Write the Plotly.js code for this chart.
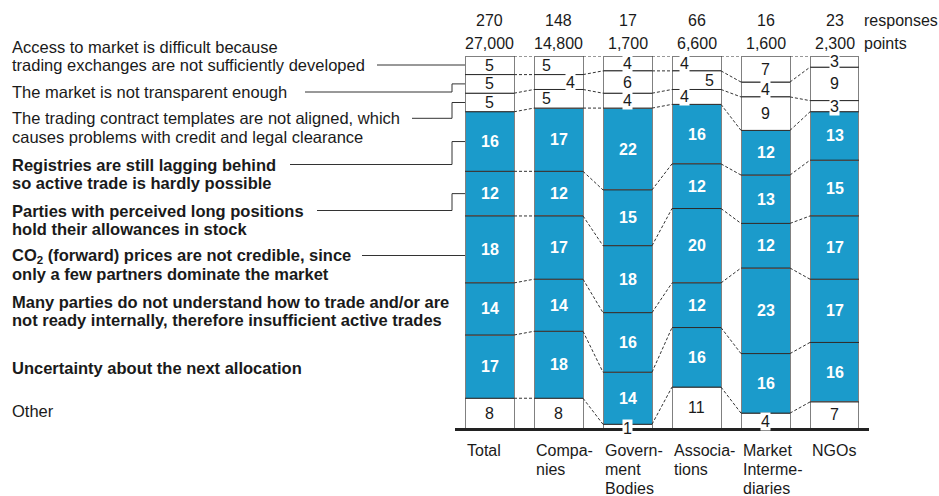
<!DOCTYPE html>
<html>
<head>
<meta charset="utf-8">
<script src="https://cdn.plot.ly/plotly-3.0.1.min.js"></script>
<style>html,body{margin:0;padding:0;background:#fff;}#chart{width:939px;height:496px;}</style>
</head>
<body>
<div id="chart"></div>
<script>
// ---------------- DATA ----------------
const categories = ["Total", "Companies", "Government Bodies", "Associations", "Market Intermediaries", "NGOs"];
const categoryLabels = ["Total", "Compa-|nies", "Govern-|ment|Bodies", "Associa-|tions", "Market|Interme-|diaries", "NGOs"];
const responses = [270, 148, 17, 66, 16, 23];
const points = [27000, 14800, 1700, 6600, 1600, 2300];

// series, bottom to top (percent of points)
const other          = [8, 8, 1, 11, 4, 7];
const uncertainty    = [17, 18, 14, 16, 16, 16];
const manyParties    = [14, 14, 16, 12, 23, 17];
const co2Prices      = [18, 17, 18, 20, 12, 17];
const longPositions  = [12, 12, 15, 12, 13, 15];
const registries     = [16, 17, 22, 16, 12, 13];
const templates      = [5, 5, 4, 4, 9, 3];
const notTransparent = [5, 4, 6, 5, 4, 9];
const accessMarket   = [5, 5, 4, 4, 7, 3];

const seriesNames = [
  "Other",
  "Uncertainty about the next allocation",
  "Many parties do not understand how to trade and/or are|not ready internally, therefore insufficient active trades",
  "CO<sub>2</sub> (forward) prices are not credible, since|only a few partners dominate the market",
  "Parties with perceived long positions|hold their allowances in stock",
  "Registries are still lagging behind|so active trade is hardly possible",
  "The trading contract templates are not aligned, which|causes problems with credit and legal clearance",
  "The market is not transparent enough",
  "Access to market is difficult because|trading exchanges are not sufficiently developed"
];
const seriesValues = [other, uncertainty, manyParties, co2Prices, longPositions, registries, templates, notTransparent, accessMarket];

// ---------------- STYLE ----------------
const W = 939, H = 496;
const M = {l: 455, r: 70, t: 56, b: 68};
const plotW = W - M.l - M.r, plotH = H - M.t - M.b;
const xRange = [-0.5, categories.length - 0.5];
const yRange = [0, 100];
const barW = 0.71;
const BLUE = "#1B9BCB";
const TXT = "#1a1a1a";
const FONT = "Liberation Sans, Arial, sans-serif";
const LEFT_SIZE = 16.5;
const highlighted = [false, true, true, true, true, true, false, false, false];
const labelFirstLineY = [411, 368, 301.5, 255.5, 210.5, 164.5, 118.3, 92, 46.7]; // px
const lineGap = 18.3;
const leaderStartX = {8: 377, 7: 305, 6: 412, 5: 290, 4: 317, 3: 362}; // px
const leaderLine = {8: 1, 7: 0, 6: 0, 5: 0, 4: 0, 3: 0};
const straightLeader = {8: true, 3: true};
const jogX = 452;
const labelOffsets = { // [categoryIndex][seriesIndex] -> {xs, ys}
  1: {6: {xs: -12}, 7: {xs: 12}, 8: {xs: -12}},
  3: {6: {xs: -12}, 7: {xs: 13}, 8: {xs: -12}},
  2: {0: {ys: -2}},
  4: {0: {ys: -1}}
};

const pxToPaperX = px => (px - M.l) / plotW;
const pxToPaperY = py => (M.t + plotH - py) / plotH;
const xToPaper = x => (x - xRange[0]) / (xRange[1] - xRange[0]);
const yToPaper = y => (y - yRange[0]) / (yRange[1] - yRange[0]);

// ---------------- TRACES ----------------
const traces = seriesValues.map((vals, s) => ({
  type: "bar",
  x: categories,
  y: vals,
  name: seriesNames[s].replace(/\|/g, " "),
  marker: {color: highlighted[s] ? BLUE : "#ffffff", line: {color: "#808080", width: 1}},
  width: barW,
  hoverinfo: "x+y+name",
  showlegend: false
}));

// cumulative levels
const cum = categories.map((_, i) => {
  const arr = [0];
  seriesValues.forEach(v => arr.push(arr[arr.length - 1] + v[i]));
  return arr;
});

const shapes = [];
const annotations = [];
const nS = seriesValues.length;

// in-bar boundaries and connectors
categories.forEach((_, i) => {
  for (let k = 1; k < nS; k++) {
    shapes.push({type: "line", xref: "x", yref: "y", x0: i - barW / 2, x1: i + barW / 2,
      y0: cum[i][k], y1: cum[i][k], line: {color: "#2a2a2a", width: 1}});
  }
  if (i < categories.length - 1) {
    for (let k = 1; k <= nS; k++) {
      shapes.push({type: "line", xref: "x", yref: "y", x0: i + barW / 2, x1: i + 1 - barW / 2,
        y0: cum[i][k], y1: cum[i + 1][k], line: {color: "#333", width: 1, dash: "3px,2px"}});
    }
  }
});

// segment value labels
categories.forEach((_, i) => {
  seriesValues.forEach((vals, s) => {
    const v = vals[i];
    const off = (labelOffsets[i] && labelOffsets[i][s]) || {};
    const small = !highlighted[s] && v <= 4;
    annotations.push({
      xref: "x", yref: "y", x: i, y: cum[i][s] + v / 2,
      text: String(v), showarrow: false,
      xshift: off.xs || 0, yshift: off.ys || 0,
      font: {family: FONT, size: 16, color: highlighted[s] ? "#ffffff" : TXT, weight: highlighted[s] ? "bold" : "normal"},
      bgcolor: small ? "#ffffff" : "rgba(0,0,0,0)",
      borderpad: 0
    });
  });
});

// left series labels + leader lines (paper refs so they are not clipped)
seriesNames.forEach((name, s) => {
  const lines = name.split("|");
  lines.forEach((ln, j) => {
    annotations.push({
      xref: "paper", yref: "paper", x: pxToPaperX(10), y: pxToPaperY(labelFirstLineY[s] + j * lineGap),
      xanchor: "left", yanchor: "middle", showarrow: false, align: "left",
      text: highlighted[s] ? "<b>" + ln + "</b>" : ln,
      font: {family: FONT, size: LEFT_SIZE, color: TXT}
    });
  });
  if (leaderStartX[s] !== undefined) {
    const ly = pxToPaperY(labelFirstLineY[s] + leaderLine[s] * lineGap);
    const target = yToPaper(cum[0][s] + seriesValues[s][0] / 2);
    const barEdge = xToPaper(0 - barW / 2);
    const lc = {color: "#333", width: 1};
    const x0 = pxToPaperX(leaderStartX[s]), xj = pxToPaperX(jogX);
    if (straightLeader[s]) {
      shapes.push({type: "line", xref: "paper", yref: "paper", x0: x0, x1: barEdge, y0: ly, y1: ly, line: lc});
    } else {
      shapes.push({type: "line", xref: "paper", yref: "paper", x0: x0, x1: xj, y0: ly, y1: ly, line: lc});
      shapes.push({type: "line", xref: "paper", yref: "paper", x0: xj, x1: xj, y0: ly, y1: target, line: lc});
      shapes.push({type: "line", xref: "paper", yref: "paper", x0: xj, x1: barEdge, y0: target, y1: target, line: lc});
    }
  }
});

// top numbers and category labels
const fmt = n => n.toLocaleString("en-US");
categories.forEach((_, i) => {
  annotations.push({xref: "x", yref: "paper", x: i, y: pxToPaperY(20), yanchor: "middle", showarrow: false,
    text: String(responses[i]), font: {family: FONT, size: 16, color: TXT}});
  annotations.push({xref: "x", yref: "paper", x: i, y: pxToPaperY(43), yanchor: "middle", showarrow: false,
    text: fmt(points[i]), font: {family: FONT, size: 16, color: TXT}});
  categoryLabels[i].split("|").forEach((ln, j) => {
    annotations.push({xref: "x", yref: "paper", x: i - barW / 2, y: pxToPaperY(450 + j * 19.3),
      xanchor: "left", yanchor: "middle", showarrow: false, text: ln,
      font: {family: FONT, size: 16, color: TXT}});
  });
});
annotations.push({xref: "paper", yref: "paper", x: pxToPaperX(862), y: pxToPaperY(20), xanchor: "left", yanchor: "middle",
  showarrow: false, text: "responses", font: {family: FONT, size: 16, color: TXT}});
annotations.push({xref: "paper", yref: "paper", x: pxToPaperX(862), y: pxToPaperY(43), xanchor: "left", yanchor: "middle",
  showarrow: false, text: "points", font: {family: FONT, size: 16, color: TXT}});

const layout = {
  width: W, height: H,
  margin: M,
  paper_bgcolor: "#ffffff", plot_bgcolor: "#ffffff",
  barmode: "stack",
  showlegend: false,
  font: {family: FONT, size: 16, color: TXT},
  xaxis: {type: "category", range: xRange, showgrid: false, zeroline: false, showticklabels: false, ticks: "",
    showline: true, linecolor: "#222", linewidth: 3, fixedrange: true},
  yaxis: {range: yRange, visible: false, showgrid: false, zeroline: false, fixedrange: true},
  shapes: shapes,
  annotations: annotations
};

Plotly.newPlot("chart", traces, layout, {displayModeBar: false, staticPlot: true});
</script>
</body>
</html>
